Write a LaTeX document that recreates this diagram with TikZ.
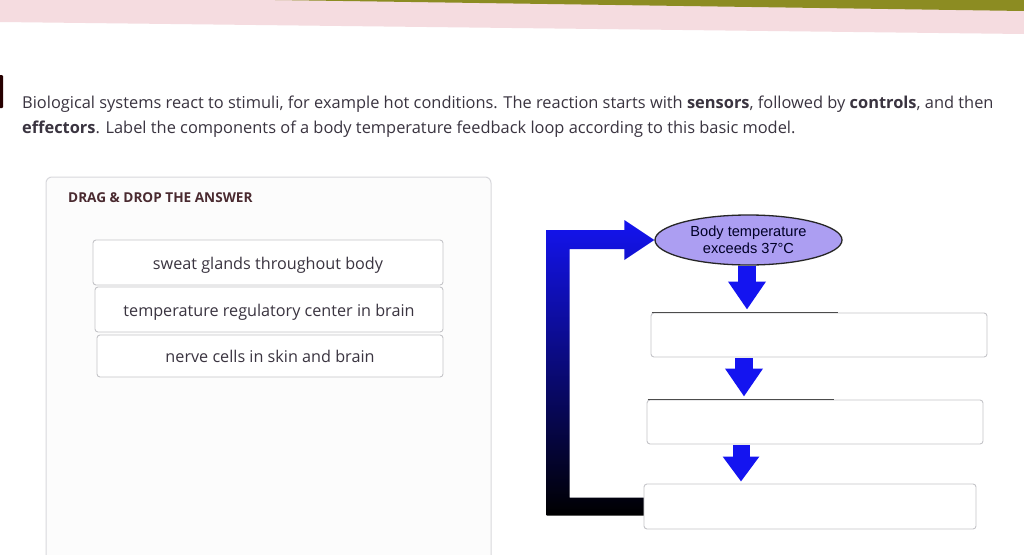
\documentclass[tikz,border=0pt]{standalone}
\usepackage{fontspec}
\setmainfont{Open Sans}
\newfontfamily\arialf{Liberation Sans}
\usetikzlibrary{arrows.meta,calc,shapes.geometric}
\definecolor{txt}{HTML}{3A3440}
\definecolor{hdr}{HTML}{4A2A30}
\definecolor{boxline}{HTML}{C4C4C8}
\definecolor{panelline}{HTML}{D8D8DC}
\definecolor{lav}{HTML}{AC9EF2}
\definecolor{arrblue}{HTML}{1414F0}
\definecolor{pinkband}{HTML}{F5DCE0}
\definecolor{olivebar}{HTML}{8C8C22}
\tikzset{
  qtext/.style={anchor=base west, inner sep=0pt, text=txt, font=\fontsize{16.4}{19}\selectfont},
  optbox/.style={draw=boxline, line width=0.9pt, rounded corners=3pt, fill=white, inner sep=0pt,
    text=txt, font=\fontsize{16.2}{19}\selectfont},
  ansbox/.style={draw=boxline, line width=0.9pt, rounded corners=3pt, fill=white, inner sep=0pt},
  downarr/.style={line width=17.5pt, arrblue, -{Triangle[length=28pt,width=36pt]}},
  darkline/.style={draw=black!70, line width=1pt}
}
\begin{document}
\begin{tikzpicture}[x=1pt,y=-1pt]
\useasboundingbox (0,0) rectangle (1024,554);
\fill[white] (0,0) rectangle (1024,554);
% top photo band
\fill[pinkband] (0,0) -- (1024,0) -- (1024,34) -- (0,22) -- cycle;
\fill[olivebar] (275,0) -- (1024,0) -- (1024,11) -- cycle;
\fill[black!85!red, rounded corners=1pt] (-2,75) rectangle (3,108);

% question text
\node[qtext] (q1) at (22,108) {Biological systems react to stimuli, for example hot conditions. The reaction starts with \textbf{sensors}, followed by \textbf{controls}, and then};
\node[qtext] (q2) at (22,133) {\textbf{effectors}. Label the components of a body temperature feedback loop according to this basic model.};

% drag & drop panel
\draw[draw=panelline, line width=1pt, fill=black!1, rounded corners=6pt] (46,177) rectangle (491,575);
\node[anchor=base west, inner sep=0pt, text=hdr, font=\bfseries\fontsize{13.6}{16}\selectfont] (hdr) at (68,202) {DRAG \& DROP THE ANSWER};

\node[optbox, minimum width=350pt, minimum height=45pt, text depth=1pt, text height=15pt] (o1) at (268,262.5) {sweat glands throughout body};
\node[optbox, minimum width=348pt, minimum height=45pt, text depth=1pt, text height=15pt] (o2) at (269,309.5) {temperature regulatory center in brain};
\node[optbox, minimum width=346pt, minimum height=42pt] (o3) at (270,356) {nerve cells in skin and brain};

% right diagram
\node[ellipse, draw=black!85, line width=1.3pt, fill=lav, minimum width=187pt, minimum height=50pt, inner sep=0pt,
  align=center, text=black!85!blue, font=\arialf\fontsize{14.6}{17}\selectfont] (ell) at (748.5,240)
  {Body temperature\\exceeds 37°C};

\node[ansbox, minimum width=336pt, minimum height=44pt] (b1) at (819,335) {};
\node[ansbox, minimum width=336pt, minimum height=44pt] (b2) at (815,422) {};
\node[ansbox, minimum width=332pt, minimum height=45pt] (b3) at (810,506.5) {};

\draw[darkline] ($(b1.north west)+(1,0)$) -- ++(186,0);
\draw[darkline] ($(b2.north west)+(1,0)$) -- ++(186,0);

\draw[downarr] ($(ell.south)+(-1.5,0)$) -- ($(b1.north)+(-72,-3)$);
\draw[downarr] ($(b1.south)+(-75,1)$) -- ($(b2.north)+(-71,-3)$);
\draw[downarr, line width=17pt, -{Triangle[length=25pt,width=35pt]}] ($(b2.south)+(-74,1)$) -- ($(b3.north)+(-69,-2)$);

% feedback loop arrow from bottom box back to ellipse
\shade[top color=arrblue, middle color=arrblue!88!black, bottom color=black]
  let \p1=(b3.west), \p2=(ell.west) in
  (\x1,\y1-9pt) -- (\x1-97pt,\y1-9pt) -- (\x1-97pt,\y2+10pt) -- (\x2-30pt,\y2+10pt) --
  (\x2-30pt,\y2+20pt) -- (\x2,\y2) -- (\x2-30pt,\y2-20pt) -- (\x2-30pt,\y2-9pt) --
  (\x1-74pt,\y2-9pt) -- (\x1-74pt,\y1+9pt) -- (\x1,\y1+9pt) -- cycle;
\end{tikzpicture}
\end{document}
